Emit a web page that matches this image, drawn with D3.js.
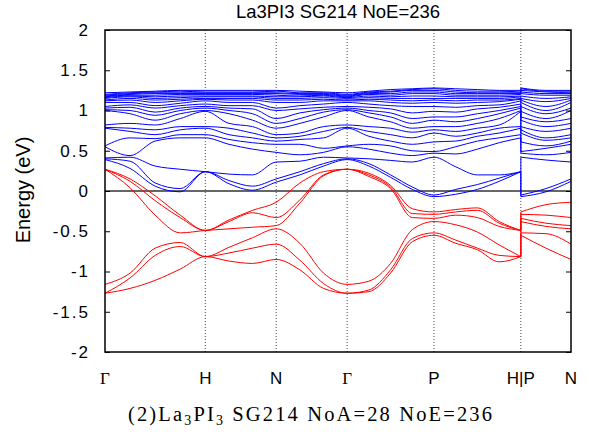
<!DOCTYPE html>
<html><head><meta charset="utf-8">
<script src="https://cdn.jsdelivr.net/npm/d3@7"></script>
<style>body{margin:0;background:#fff}svg{display:block}</style>
</head><body>
<svg id="chart" width="589" height="438"></svg>
<script>
// ---- data ----
const titleText = "La3PI3 SG214 NoE=236";
const yLabel = "Energy (eV)";
const kTicks = [0, 1, 1.707, 2.414, 3.280, 4.146, 4.646];
const kTickLabels = ["Γ", "H", "N", "Γ", "P", "H|P", "N"];
const yTickValues = [-2, -1.5, -1, -0.5, 0, 0.5, 1, 1.5, 2];
const yTickLabels = ["-2", "-1.5", "-1", "-0.5", "0", "0.5", "1", "1.5", "2"];
// k sample points: Γ-H-N-Γ-P-H path, then P-N path
const kPath1 = [0, 0.25, 0.5, 0.75, 1, 1.236, 1.471, 1.707, 1.943, 2.179, 2.414, 2.631, 2.847, 3.064, 3.280, 3.497, 3.713, 3.930, 4.146];
const kPath2 = [4.146, 4.396, 4.646];
// valence energies (eV), one row per k sample point, sorted per point
const valenceAtK = [
  [-1.27,-1.27,-1.16,0.27,0.27,0.27],
  [-1.21,-1.08,-1.02,0.04,0.12,0.15],
  [-1.11,-0.80,-0.71,-0.30,-0.12,-0.06],
  [-0.97,-0.69,-0.64,-0.52,-0.33,-0.30],
  [-0.815,-0.815,-0.815,-0.49,-0.49,-0.49],
  [-0.87,-0.77,-0.70,-0.47,-0.38,-0.36],
  [-0.90,-0.71,-0.58,-0.45,-0.27,-0.24],
  [-0.85,-0.66,-0.47,-0.43,-0.33,-0.14],
  [-0.98,-0.86,-0.65,-0.15,-0.11,0.10],
  [-1.21,-1.15,-1.02,0.19,0.20,0.24],
  [-1.27,-1.27,-1.16,0.27,0.27,0.27],
  [-1.25,-1.23,-1.12,0.18,0.20,0.22],
  [-1.02,-0.98,-0.90,0.03,0.05,0.07],
  [-0.63,-0.59,-0.48,-0.33,-0.28,-0.22],
  [-0.55,-0.52,-0.38,-0.34,-0.29,-0.26],
  [-0.65,-0.61,-0.42,-0.30,-0.26,-0.23],
  [-0.73,-0.71,-0.51,-0.33,-0.24,-0.21],
  [-0.88,-0.80,-0.67,-0.44,-0.40,-0.38],
  [-0.815,-0.815,-0.815,-0.49,-0.49,-0.49],
  [-0.55,-0.52,-0.38,-0.34,-0.29,-0.26],
  [-0.71,-0.53,-0.44,-0.40,-0.30,-0.17],
  [-0.85,-0.66,-0.47,-0.43,-0.33,-0.14]
];
// conduction energies (eV), one row per k sample point, sorted per point
const conductionAtK = [
  [0.39,0.40,0.41,0.55,0.56,0.78,0.79,0.82,1.00,1.01,1.03,1.05,1.10,1.12,1.13,1.15,1.16,1.17,1.18,1.19,1.20,1.22],
  [0.28,0.37,0.42,0.44,0.66,0.74,0.78,0.84,0.96,1.00,1.04,1.07,1.10,1.13,1.15,1.17,1.18,1.19,1.20,1.21,1.22,1.23],
  [0.06,0.10,0.31,0.62,0.65,0.70,0.76,0.82,0.88,0.94,0.98,1.03,1.06,1.10,1.13,1.15,1.17,1.19,1.21,1.22,1.23,1.24],
  [-0.01,0.03,0.27,0.66,0.70,0.76,0.80,0.90,0.96,1.00,1.03,1.06,1.09,1.12,1.14,1.16,1.18,1.20,1.21,1.22,1.24,1.25],
  [0.24,0.24,0.24,0.66,0.70,0.78,0.80,0.99,1.00,1.03,1.05,1.08,1.12,1.14,1.15,1.17,1.18,1.20,1.21,1.22,1.23,1.25],
  [0.09,0.13,0.21,0.58,0.64,0.70,0.78,0.84,0.96,1.00,1.03,1.06,1.10,1.13,1.15,1.17,1.18,1.20,1.21,1.22,1.23,1.25],
  [0.01,0.06,0.20,0.52,0.60,0.66,0.72,0.80,0.88,0.96,1.02,1.06,1.10,1.13,1.15,1.17,1.18,1.20,1.21,1.22,1.23,1.25],
  [0.11,0.15,0.36,0.48,0.58,0.62,0.66,0.70,0.78,0.84,0.90,1.00,1.03,1.10,1.13,1.15,1.17,1.19,1.21,1.22,1.24,1.25],
  [0.20,0.24,0.37,0.45,0.58,0.64,0.68,0.72,0.84,0.90,0.97,1.02,1.06,1.10,1.13,1.15,1.17,1.18,1.20,1.21,1.22,1.24],
  [0.31,0.34,0.42,0.48,0.53,0.66,0.74,0.80,0.92,0.98,1.01,1.04,1.08,1.12,1.14,1.16,1.18,1.19,1.20,1.21,1.22,1.23],
  [0.39,0.40,0.41,0.55,0.56,0.78,0.79,0.82,1.00,1.01,1.03,1.05,1.10,1.12,1.13,1.15,1.16,1.17,1.18,1.19,1.20,1.22],
  [0.31,0.34,0.40,0.52,0.58,0.68,0.74,0.80,0.92,0.97,1.00,1.04,1.08,1.12,1.14,1.16,1.18,1.20,1.21,1.22,1.23,1.24],
  [0.17,0.20,0.38,0.47,0.56,0.62,0.70,0.78,0.86,0.92,0.97,1.02,1.06,1.10,1.13,1.15,1.17,1.19,1.21,1.23,1.24,1.26],
  [0.02,0.05,0.36,0.44,0.50,0.58,0.66,0.73,0.78,0.84,0.90,0.97,1.05,1.09,1.12,1.15,1.18,1.21,1.23,1.25,1.26,1.27],
  [-0.07,-0.05,0.42,0.47,0.49,0.61,0.72,0.76,0.80,0.88,0.92,0.99,1.05,1.10,1.13,1.15,1.18,1.21,1.23,1.25,1.27,1.28],
  [-0.04,0.02,0.30,0.46,0.55,0.62,0.68,0.74,0.80,0.86,0.92,0.98,1.04,1.09,1.12,1.15,1.17,1.19,1.21,1.23,1.25,1.27],
  [0.02,0.08,0.20,0.52,0.62,0.68,0.72,0.78,0.84,0.90,0.96,1.02,1.06,1.10,1.13,1.15,1.17,1.19,1.21,1.22,1.24,1.26],
  [0.12,0.16,0.20,0.60,0.66,0.72,0.78,0.82,0.90,0.96,1.00,1.04,1.07,1.11,1.13,1.15,1.17,1.19,1.21,1.22,1.24,1.25],
  [0.24,0.24,0.24,0.66,0.70,0.78,0.80,0.99,1.00,1.03,1.05,1.08,1.12,1.14,1.15,1.17,1.18,1.20,1.21,1.22,1.23,1.25],
  [-0.07,-0.05,0.42,0.47,0.49,0.61,0.72,0.76,0.80,0.88,0.92,0.99,1.05,1.10,1.13,1.15,1.18,1.21,1.23,1.25,1.27,1.28],
  [-0.01,0.03,0.385,0.45,0.53,0.56,0.63,0.66,0.74,0.80,0.86,0.90,0.96,1.00,1.05,1.11,1.15,1.19,1.21,1.23,1.24,1.25],
  [0.12,0.15,0.36,0.48,0.58,0.62,0.66,0.70,0.78,0.84,0.90,1.00,1.03,1.10,1.13,1.15,1.17,1.19,1.21,1.22,1.24,1.25]
];

// ---- drawing ----
const svg = d3.select("#chart");
const W = 589, H = 438;
const plot = {left: 105, right: 571, top: 30, bottom: 352};
const x = d3.scaleLinear().domain([kTicks[0], kTicks[kTicks.length - 1]]).range([plot.left, plot.right]);
const y = d3.scaleLinear().domain([-2, 2]).range([plot.bottom, plot.top]);

svg.append("rect").attr("width", W).attr("height", H).attr("fill", "#fff");

svg.append("defs").append("clipPath").attr("id", "clip")
  .append("rect").attr("x", plot.left).attr("y", plot.top)
  .attr("width", plot.right - plot.left).attr("height", plot.bottom - plot.top);

// vertical dotted lines at interior high-symmetry points
svg.append("g").selectAll("line").data(kTicks.slice(1, -1)).join("line")
  .attr("x1", d => x(d)).attr("x2", d => x(d))
  .attr("y1", plot.top).attr("y2", plot.bottom)
  .attr("stroke", "#444").attr("stroke-width", 1).attr("stroke-dasharray", "1,2");

// zero line
svg.append("line").attr("x1", plot.left).attr("x2", plot.right)
  .attr("y1", y(0)).attr("y2", y(0)).attr("stroke", "#333").attr("stroke-width", 1.3);

const line = d3.line().x(d => x(d[0])).y(d => y(d[1])).curve(d3.curveMonotoneX);
const straight = d3.line().x(d => x(d[0])).y(d => y(d[1]));
const n1 = kPath1.length;

function drawBands(rows, color) {
  const nb = rows[0].length;
  const g = svg.append("g").attr("clip-path", "url(#clip)")
    .attr("fill", "none").attr("stroke", color).attr("stroke-width", 1);
  for (let b = 0; b < nb; b++) {
    const vals = rows.map(r => r[b]);
    const p1 = kPath1.map((k, i) => [k, vals[i]]);
    const p2 = kPath2.map((k, i) => [k, vals[n1 + i]]);
    g.append("path").attr("d", line(p1));
    g.append("path").attr("d", line(p2));
    g.append("path").attr("d", straight([p1[n1 - 1], p2[0]]));
  }
}
drawBands(valenceAtK, "#ff0000");
drawBands(conductionAtK, "#0000ff");

// frame
svg.append("rect").attr("x", plot.left).attr("y", plot.top)
  .attr("width", plot.right - plot.left).attr("height", plot.bottom - plot.top)
  .attr("fill", "none").attr("stroke", "#000").attr("stroke-width", 1.5);

// y axes with inward ticks
const yAxisL = d3.axisLeft(y).tickValues(yTickValues)
  .tickFormat((d, i) => yTickLabels[i]).tickSizeInner(-5).tickSizeOuter(0).tickPadding(15);
const gl = svg.append("g").attr("transform", `translate(${plot.left},0)`).call(yAxisL);
gl.select(".domain").remove();
gl.selectAll(".tick line").attr("stroke", "#000").attr("stroke-width", 1);
gl.selectAll(".tick text").attr("font-family", "'Liberation Sans', Arial, sans-serif")
  .attr("font-size", 17).attr("letter-spacing", 2).attr("fill", "#000");

const yAxisR = d3.axisRight(y).tickValues(yTickValues).tickFormat("").tickSizeInner(-5).tickSizeOuter(0);
const gr = svg.append("g").attr("transform", `translate(${plot.right},0)`).call(yAxisR);
gr.select(".domain").remove();
gr.selectAll(".tick line").attr("stroke", "#000").attr("stroke-width", 1);

// x tick labels
svg.append("g").selectAll("text").data(kTicks).join("text")
  .attr("x", d => x(d)).attr("y", 384).attr("text-anchor", "middle")
  .attr("font-size", 17)
  .attr("font-family", (d, i) => kTickLabels[i] === "Γ" ? "'Liberation Serif', 'DejaVu Serif', serif" : "'Liberation Sans', Arial, sans-serif")
  .text((d, i) => kTickLabels[i]);

// title
svg.append("text").attr("x", (plot.left + plot.right) / 2).attr("y", 17.5)
  .attr("text-anchor", "middle").attr("font-family", "'Liberation Sans', Arial, sans-serif")
  .attr("font-size", 18.5).text(titleText);

// y label
svg.append("text").attr("transform", `translate(30,190) rotate(-90)`)
  .attr("text-anchor", "middle").attr("font-family", "'Liberation Sans', Arial, sans-serif")
  .attr("font-size", 20).text(yLabel);

// caption
const cap = svg.append("text").attr("x", 128).attr("y", 420.5)
  .attr("font-family", "'Liberation Serif', 'DejaVu Serif', serif").attr("font-size", 20.5)
  .attr("textLength", 364).attr("lengthAdjust", "spacing");
cap.append("tspan").text("(2)La");
cap.append("tspan").attr("font-size", 14).attr("dy", 4).text("3");
cap.append("tspan").attr("dy", -4).text("PI");
cap.append("tspan").attr("font-size", 14).attr("dy", 4).text("3");
cap.append("tspan").attr("dy", -4).text(" SG214 NoA=28 NoE=236");
</script>
</body></html>
